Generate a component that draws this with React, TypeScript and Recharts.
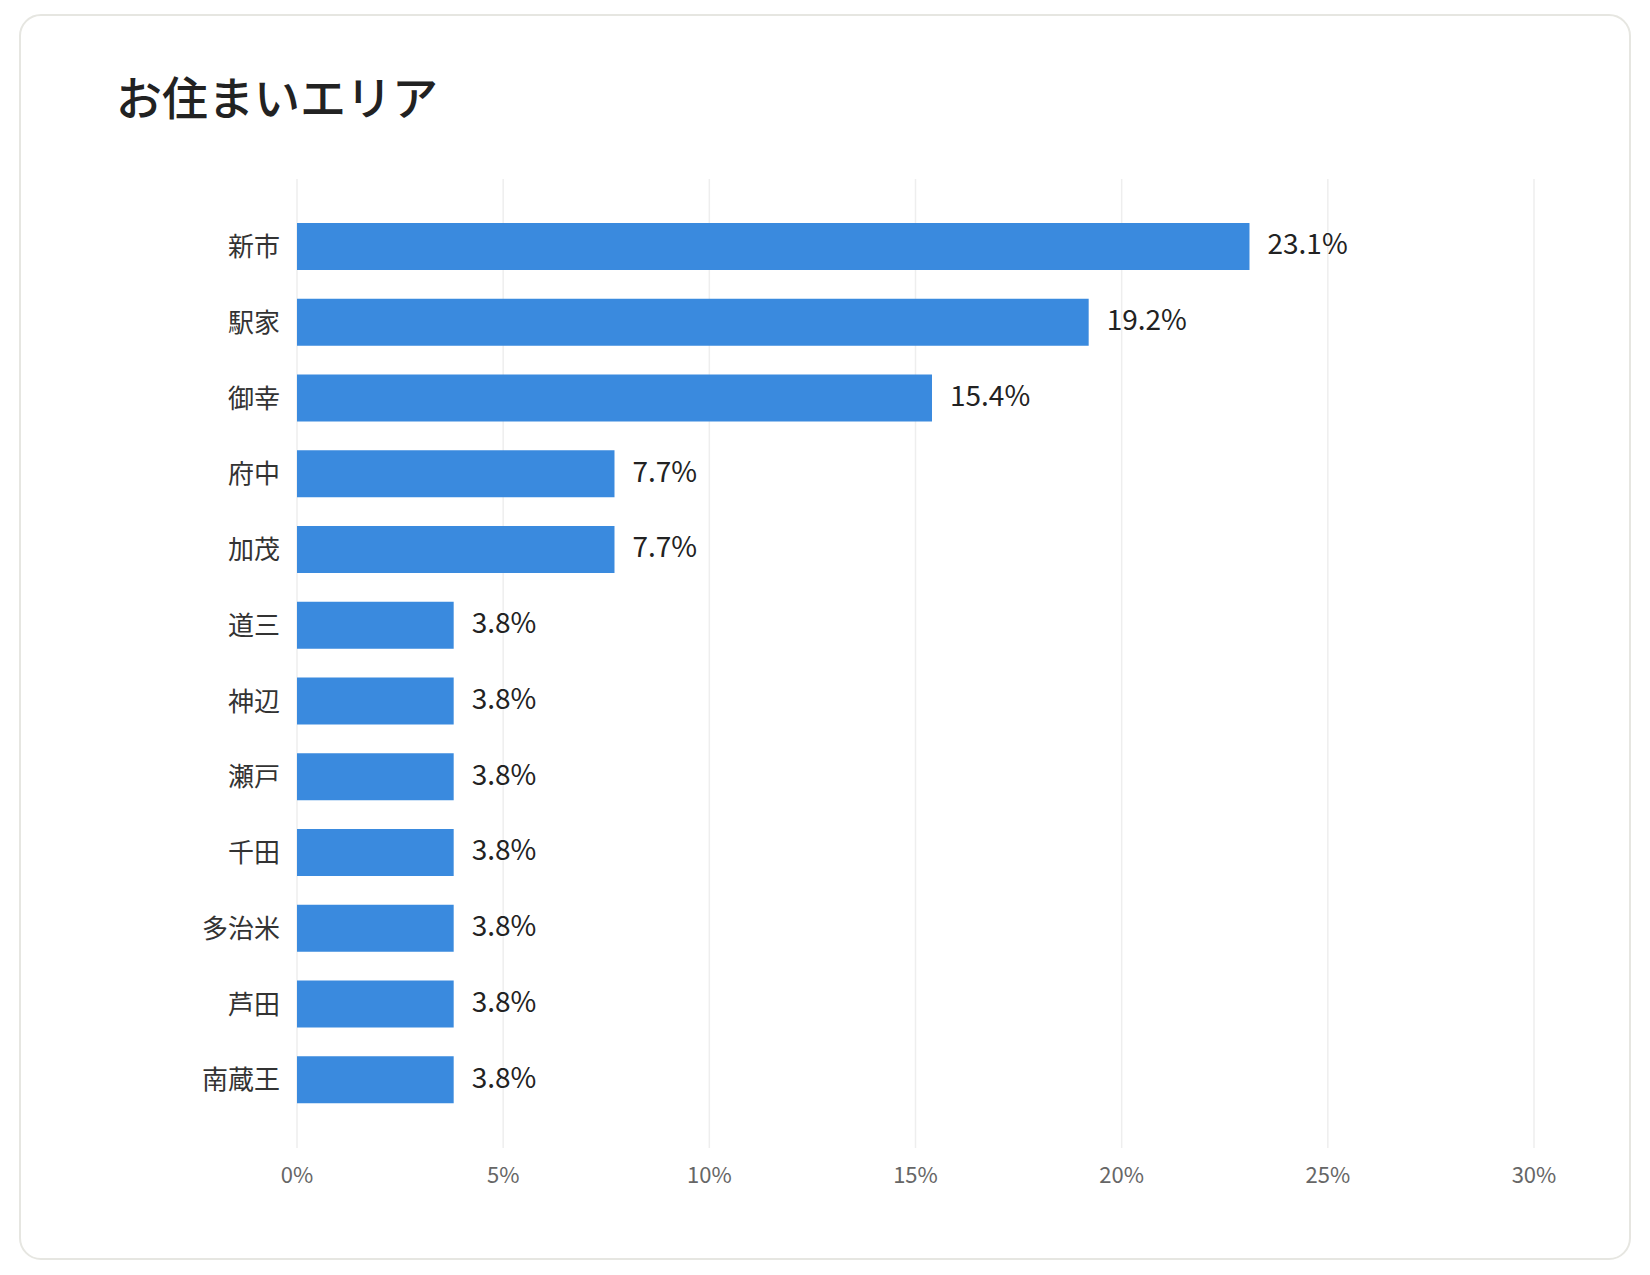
import React from 'react';
import { BarChart, Bar, XAxis, YAxis, CartesianGrid, LabelList } from 'recharts';

const areas = ['新市', '駅家', '御幸', '府中', '加茂', '道三', '神辺', '瀬戸', '千田', '多治米', '芦田', '南蔵王'];
const shares = [23.1, 19.2, 15.4, 7.7, 7.7, 3.8, 3.8, 3.8, 3.8, 3.8, 3.8, 3.8];
const xTicks = [0, 5, 10, 15, 20, 25, 30];
const title = 'お住まいエリア';

const data = areas.map((area, i) => ({ area, share: shares[i] }));

const FONT = '"Noto Sans CJK JP", "Noto Sans", sans-serif';

export default function App() {
  return (
    <div style={{ position: 'absolute', left: 0, top: 0, width: 1650, height: 1275, background: '#fff', fontFamily: FONT }}>
      <div
        style={{
          position: 'absolute',
          left: 19,
          top: 14,
          width: 1608,
          height: 1242,
          border: '2.5px solid #e6e6e1',
          borderRadius: 22,
          boxSizing: 'content-box',
        }}
      />
      <div
        style={{
          position: 'absolute',
          left: 116,
          top: 68,
          fontSize: 46,
          lineHeight: '54px',
          fontWeight: 500,
          color: '#222',
          whiteSpace: 'nowrap',
        }}
      >
        {title}
      </div>
      <div style={{ position: 'absolute', left: 0, top: 0 }}>
        <BarChart
          width={1650}
          height={1275}
          data={data}
          layout="vertical"
          margin={{ top: 179, right: 116, bottom: 87, left: 0 }}
          barSize={47}
        >
          <CartesianGrid horizontal={false} vertical={true} stroke="#eeeeee" strokeWidth={1.5} />
          <XAxis
            type="number"
            domain={[0, 30]}
            ticks={xTicks}
            tickFormatter={(v) => `${v}%`}
            axisLine={false}
            tickLine={false}
            tickMargin={13}
            height={40}
            tick={{ fill: '#666', fontSize: 22, fontFamily: FONT }}
            interval={0}
          />
          <YAxis
            type="category"
            dataKey="area"
            width={297}
            axisLine={false}
            tickLine={false}
            tickMargin={11}
            padding={{ top: 30, bottom: 30 }}
            tick={{ fill: '#333', fontSize: 26, fontFamily: FONT }}
            interval={0}
          />
          <Bar dataKey="share" fill="#3a8ade" isAnimationActive={false}>
            <LabelList
              dataKey="share"
              position="right"
              offset={18}
              formatter={(v) => `${v}%`}
              style={{ fill: '#222', fontSize: 28, fontWeight: 400, fontFamily: FONT, transform: 'translateY(-2px)' }}
            />
          </Bar>
        </BarChart>
      </div>
    </div>
  );
}
